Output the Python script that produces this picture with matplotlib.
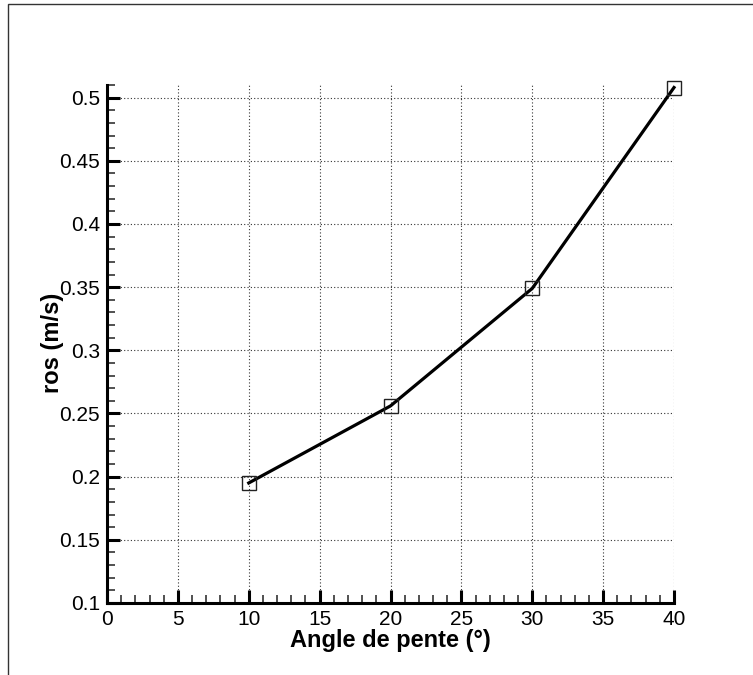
import matplotlib
matplotlib.use("Agg")
import matplotlib.pyplot as plt
from matplotlib.patches import Rectangle
from matplotlib.ticker import MultipleLocator

plt.rcParams['font.family'] = ['Liberation Sans', 'DejaVu Sans']

angles = [10, 20, 30, 40]
ros = [0.195, 0.256, 0.349, 0.508]
x_label = "Angle de pente (°)"
y_label = "ros (m/s)"

W, H = 753, 675
fig = plt.figure(figsize=(W / 100, H / 100), dpi=100)

# outer frame
fig.patches.append(Rectangle((8 / W, -0.1), 2, 1 - 4 / H + 0.1, transform=fig.transFigure,
                             fill=False, edgecolor='#333333', linewidth=1.0))

left, right, top, bottom = 107, 674, 85, 603
ax = fig.add_axes([left / W, 1 - bottom / H, (right - left) / W, (bottom - top) / H])

ax.plot(angles, ros, color='black', linewidth=2.3, zorder=3, clip_on=False)
ax.plot(angles, ros, linestyle='none', marker='s', markersize=9.5,
        markerfacecolor='none', markeredgecolor='#222222', markeredgewidth=1.0,
        zorder=4, clip_on=False)

ax.set_xlim(0, 40)
ax.set_ylim(0.1, 0.51)
ax.xaxis.set_minor_locator(MultipleLocator(1))
ax.yaxis.set_minor_locator(MultipleLocator(0.01))
ax.set_xticks([0, 5, 10, 15, 20, 25, 30, 35, 40])
ax.set_xticklabels(['0', '5', '10', '15', '20', '25', '30', '35', '40'])
ax.set_yticks([0.1, 0.15, 0.2, 0.25, 0.3, 0.35, 0.4, 0.45, 0.5])
ax.set_yticklabels(['0.1', '0.15', '0.2', '0.25', '0.3', '0.35', '0.4', '0.45', '0.5'])

for s in ['top', 'right']:
    ax.spines[s].set_visible(False)
for s in ['left', 'bottom']:
    ax.spines[s].set_linewidth(2.2)
    ax.spines[s].set_color('black')

ax.tick_params(which='major', direction='in', length=9.5, width=2.2, color='black',
               labelsize=15, pad=5)
ax.tick_params(which='minor', direction='in', length=5.5, width=1.2, color='#333333')

ax.grid(True, which='major', linestyle=(0, (1, 2)), color='#333333', linewidth=0.8)
ax.set_axisbelow(True)

fig.text(390 / W, 1 - 640 / H, x_label, ha='center', va='center',
         fontsize=17, fontweight='bold')
fig.text(53 / W, 1 - 343 / H, y_label, ha='center', va='center', rotation=90,
         fontsize=17, fontweight='bold')

fig.savefig('out.png', dpi=100)
